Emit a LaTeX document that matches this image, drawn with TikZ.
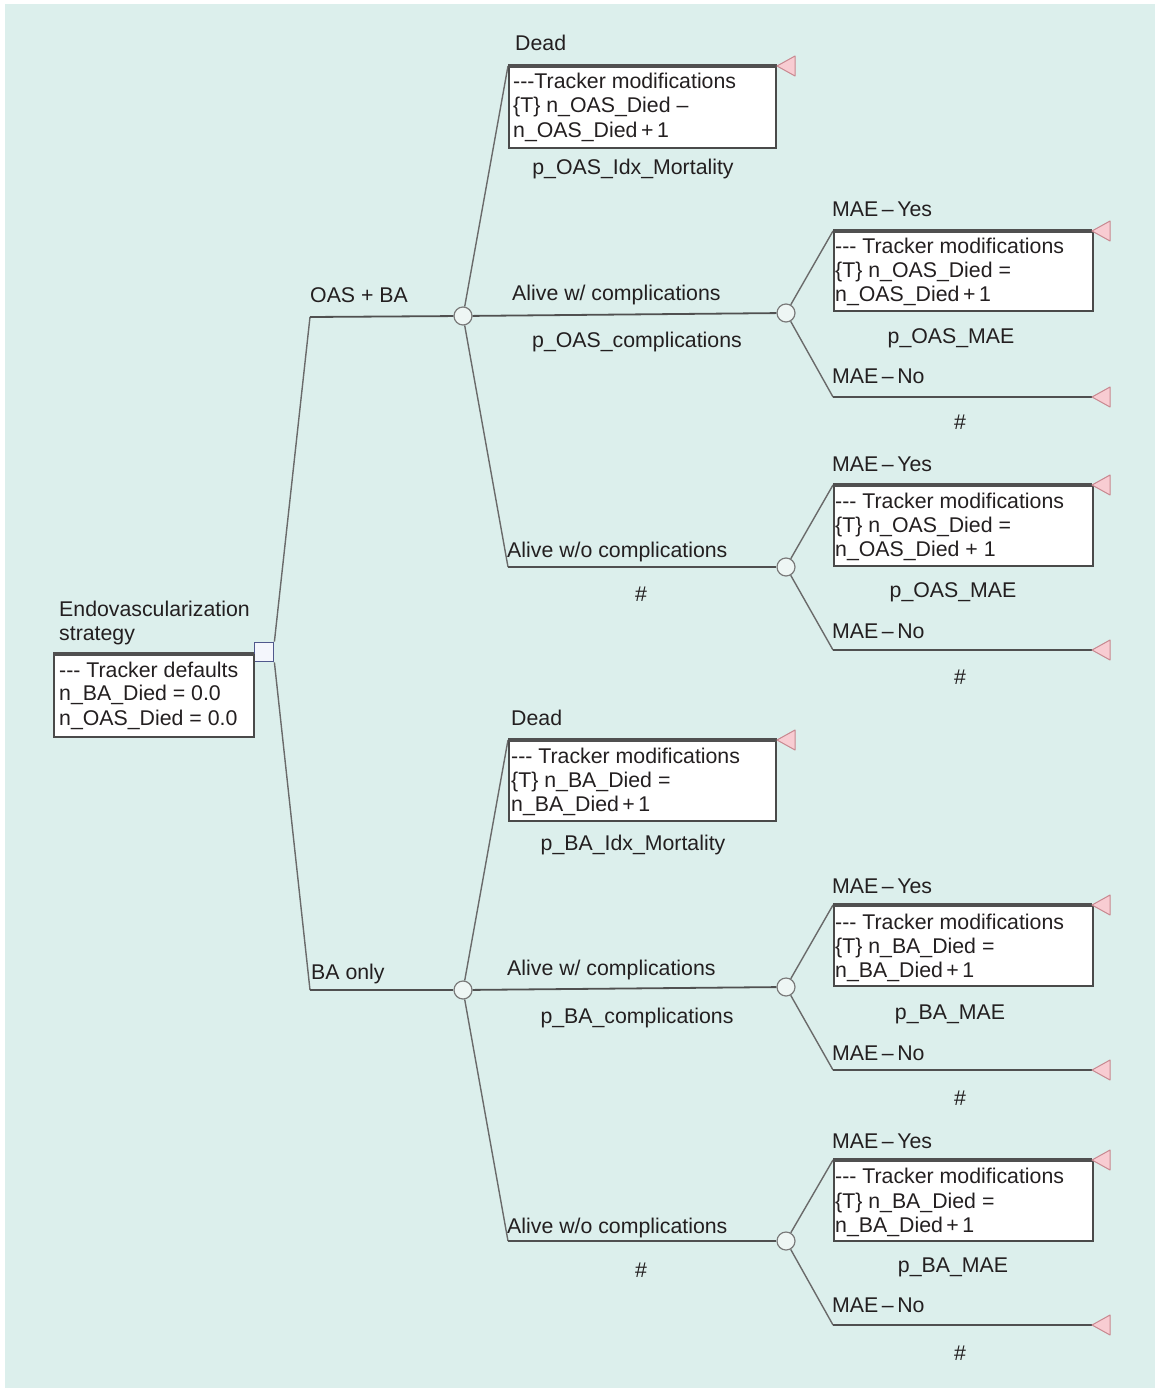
\documentclass[tikz,border=0pt]{standalone}
\usepackage{fontspec}
\setmainfont{Liberation Sans}
\definecolor{bgc}{HTML}{DCEFEC}
\definecolor{txtc}{HTML}{231F20}
\definecolor{brc}{HTML}{6A6A6A}
\definecolor{hbrc}{HTML}{505050}
\definecolor{boxc}{HTML}{4A4A4A}
\definecolor{chc}{HTML}{7A7A7A}
\definecolor{chf}{HTML}{EEF6F4}
\definecolor{decc}{HTML}{50588C}
\definecolor{decf}{HTML}{F4F6FC}
\definecolor{trf}{HTML}{F8CCD2}
\definecolor{trd}{HTML}{C88890}
\newcommand\termtri[1]{\filldraw[term] (#1) -- ++(18,-10) -- ++(0,20) -- cycle;}
\begin{document}
\begin{tikzpicture}[x=1pt,y=-1pt,
  lbl/.style={font=\fontsize{21.3}{24}\selectfont, text=txtc, inner sep=0pt, anchor=base west},
  clbl/.style={lbl, anchor=base},
  br/.style={draw=brc, line width=1.4pt},
  hbr/.style={draw=hbrc, line width=1.8pt},
  topln/.style={draw=hbrc, line width=3.2pt},
  tbox/.style={draw=boxc, line width=1.8pt, fill=white, inner sep=0pt, anchor=north west},
  chance/.style={circle, draw=chc, fill=chf, line width=1.2pt, minimum size=18pt, inner sep=0pt},
  decision/.style={rectangle, draw=decc, fill=decf, line width=1.8pt, minimum size=19pt, inner sep=0pt},
  term/.style={fill=trf, draw=trd, line width=1pt, line join=round}]
\useasboundingbox (0,0) rectangle (1155,1388);
\fill[bgc] (5,4) rectangle (1156,1389);

% ---------- root ----------
\node[decision] (D) at (264,652) {};
\node[tbox, minimum width=200pt, minimum height=82pt] (rbox) at (53,654) {};
\coordinate (rb) at (53,654);
\draw[topln] (rb) -- (rb -| D.west);
\node[lbl] (rl1) at (59,616) {Endovascularization};
\node[lbl] (rl2) at (59,640) {strategy};
\node[lbl] (rt1) at (59,677) {-{}-{}- Tracker defaults};
\node[lbl] (rt2) at (59,700) {n\_BA\_Died = 0.0};
\node[lbl] (rt3) at (59,725) {n\_OAS\_Died = 0.0};

% ---------- chance nodes ----------
\node[chance] (C1) at (463,316) {};
\node[chance] (C2) at (786,313) {};
\node[chance] (C3) at (786,567) {};
\node[chance] (C4) at (463,990) {};
\node[chance] (C5) at (786,987) {};
\node[chance] (C6) at (786,1241) {};

% ---------- strategy branches ----------
\coordinate (a1) at (310,317);
\coordinate (a2) at (310,990);
\draw[br] (D.north east) -- (a1);
\draw[hbr] (a1) -- (C1);
\draw[br] (D.south east) -- (a2);
\draw[hbr] (a2) -- (C4);
\node[lbl] (la1) at (310,302) {OAS + BA};
\node[lbl] (la2) at (311,979) {BA only};

% ---------- OAS + BA: Dead ----------
\coordinate (dO) at (508,66);
\coordinate (tdO) at (777,66);
\draw[br] (C1) -- (dO);
\node[tbox, minimum width=267pt, minimum height=81pt] (bdO) at (dO) {};
\draw[topln] (dO) -- (tdO);
\termtri{tdO}
\node[lbl] (ldO) at (515,51) {Dead};
\node[lbl] (bdO1) at (513,89) {-{}-{}-Tracker modifications};
\node[lbl] (bdO2) at (513,113) {\{T\} n\_OAS\_Died –};
\node[lbl] (bdO3) at (513,138) {n\_OAS\_Died\,+\,1};
\node[clbl] (pdO) at (633,175) {p\_OAS\_Idx\_Mortality};

% ---------- OAS + BA: Alive w/ ----------
\draw[hbr] (C1) -- (C2);
\node[lbl] (lcO) at (512,300) {Alive w/ complications};
\node[clbl] (pcO) at (637,347) {p\_OAS\_complications};

% ---------- OAS + BA: Alive w/o ----------
\coordinate (wO) at (508,567);
\draw[br] (C1) -- (wO);
\draw[hbr] (wO) -- (C3);
\node[lbl] (lwO) at (507,557) {Alive w/o complications};
\node[clbl] (pwO) at (641,601) {\#};

% ---------- C2 ----------
\coordinate (y2) at (833,231);
\coordinate (ty2) at (1092,231);
\draw[br] (C2) -- (y2);
\node[tbox, minimum width=259pt, minimum height=79pt] (by2) at (y2) {};
\draw[topln] (y2) -- (ty2);
\termtri{ty2}
\node[lbl] (ly2) at (832,217) {MAE\,–\,Yes};
\node[lbl] (by21) at (835,254) {-{}-{}- Tracker modifications};
\node[lbl] (by22) at (835,277) {\{T\} n\_OAS\_Died =};
\node[lbl] (by23) at (835,301) {n\_OAS\_Died\,+\,1};
\node[clbl] (py2) at (951,343) {p\_OAS\_MAE};
\coordinate (n2) at (833,397);
\coordinate (tn2) at (1092,397);
\draw[br] (C2) -- (n2);
\draw[hbr] (n2) -- (tn2);
\termtri{tn2}
\node[lbl] (ln2) at (832,383) {MAE\,–\,No};
\node[clbl] (pn2) at (960,429) {\#};

% ---------- C3 ----------
\coordinate (y3) at (833,485);
\coordinate (ty3) at (1092,485);
\draw[br] (C3) -- (y3);
\node[tbox, minimum width=259pt, minimum height=80pt] (by3) at (y3) {};
\draw[topln] (y3) -- (ty3);
\termtri{ty3}
\node[lbl] (ly3) at (832,471) {MAE\,–\,Yes};
\node[lbl] (by31) at (835,508) {-{}-{}- Tracker modifications};
\node[lbl] (by32) at (835,532) {\{T\} n\_OAS\_Died =};
\node[lbl] (by33) at (835,556) {n\_OAS\_Died + 1};
\node[clbl] (py3) at (953,597) {p\_OAS\_MAE};
\coordinate (n3) at (833,650);
\coordinate (tn3) at (1092,650);
\draw[br] (C3) -- (n3);
\draw[hbr] (n3) -- (tn3);
\termtri{tn3}
\node[lbl] (ln3) at (832,638) {MAE\,–\,No};
\node[clbl] (pn3) at (960,684) {\#};

% ---------- BA only: Dead ----------
\coordinate (dB) at (508,740);
\coordinate (tdB) at (777,740);
\draw[br] (C4) -- (dB);
\node[tbox, minimum width=267pt, minimum height=80pt] (bdB) at (dB) {};
\draw[topln] (dB) -- (tdB);
\termtri{tdB}
\node[lbl] (ldB) at (511,725) {Dead};
\node[lbl] (bdB1) at (511,763) {-{}-{}- Tracker modifications};
\node[lbl] (bdB2) at (511,787) {\{T\} n\_BA\_Died =};
\node[lbl] (bdB3) at (511,811) {n\_BA\_Died\,+\,1};
\node[clbl] (pdB) at (633,850) {p\_BA\_Idx\_Mortality};

% ---------- BA only: Alive w/ ----------
\draw[hbr] (C4) -- (C5);
\node[lbl] (lcB) at (507,975) {Alive w/ complications};
\node[clbl] (pcB) at (637,1023) {p\_BA\_complications};

% ---------- BA only: Alive w/o ----------
\coordinate (wB) at (508,1241);
\draw[br] (C4) -- (wB);
\draw[hbr] (wB) -- (C6);
\node[lbl] (lwB) at (507,1233) {Alive w/o complications};
\node[clbl] (pwB) at (641,1277) {\#};

% ---------- C5 ----------
\coordinate (y5) at (833,905);
\coordinate (ty5) at (1092,905);
\draw[br] (C5) -- (y5);
\node[tbox, minimum width=259pt, minimum height=80pt] (by5) at (y5) {};
\draw[topln] (y5) -- (ty5);
\termtri{ty5}
\node[lbl] (ly5) at (832,893) {MAE\,–\,Yes};
\node[lbl] (by51) at (835,929) {-{}-{}- Tracker modifications};
\node[lbl] (by52) at (835,953) {\{T\} n\_BA\_Died =};
\node[lbl] (by53) at (835,977) {n\_BA\_Died\,+\,1};
\node[clbl] (py5) at (950,1019) {p\_BA\_MAE};
\coordinate (n5) at (833,1070);
\coordinate (tn5) at (1092,1070);
\draw[br] (C5) -- (n5);
\draw[hbr] (n5) -- (tn5);
\termtri{tn5}
\node[lbl] (ln5) at (832,1060) {MAE\,–\,No};
\node[clbl] (pn5) at (960,1105) {\#};

% ---------- C6 ----------
\coordinate (y6) at (833,1160);
\coordinate (ty6) at (1092,1160);
\draw[br] (C6) -- (y6);
\node[tbox, minimum width=259pt, minimum height=80pt] (by6) at (y6) {};
\draw[topln] (y6) -- (ty6);
\termtri{ty6}
\node[lbl] (ly6) at (832,1148) {MAE\,–\,Yes};
\node[lbl] (by61) at (835,1183) {-{}-{}- Tracker modifications};
\node[lbl] (by62) at (835,1208) {\{T\} n\_BA\_Died =};
\node[lbl] (by63) at (835,1232) {n\_BA\_Died\,+\,1};
\node[clbl] (py6) at (953,1272) {p\_BA\_MAE};
\coordinate (n6) at (833,1325);
\coordinate (tn6) at (1092,1325);
\draw[br] (C6) -- (n6);
\draw[hbr] (n6) -- (tn6);
\termtri{tn6}
\node[lbl] (ln6) at (832,1312) {MAE\,–\,No};
\node[clbl] (pn6) at (960,1360) {\#};
\end{tikzpicture}
\end{document}
